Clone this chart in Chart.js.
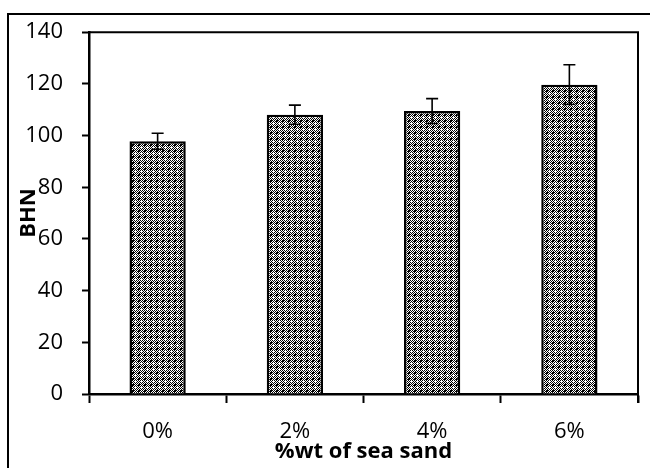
<!DOCTYPE html>
<html lang="en">
<head>
    <meta charset="UTF-8">
    <title>BHN vs %wt of sea sand</title>
    <style>
        * { margin: 0; padding: 0; box-sizing: border-box; }
        body { width: 650px; height: 468px; background: #fff; overflow: hidden; position: relative; }
        .frame {
            position: absolute;
            left: 7px; top: 13px;
            width: 700px; height: 500px;
            border: 2px solid #000;
        }
        #chart { position: absolute; left: 0; top: 0; }
    </style>
</head>
<body>
    <div class="frame"></div>
    <canvas id="chart" width="650" height="468"></canvas>

    <script src="https://cdn.jsdelivr.net/npm/chart.js"></script>
    <script>
        const categories = ['0%', '2%', '4%', '6%'];
        const bhn = [97.8, 108.1, 109.5, 119.7];
        const bhnError = [3.1, 3.7, 4.8, 7.7];
        const yTicks = [0, 20, 40, 60, 80, 100, 120, 140];

        const FONT = "'Open Sans', sans-serif";

        // dotted fill like the excel pattern
        function makePattern() {
            const c = document.createElement('canvas');
            c.width = 6; c.height = 6;
            const g = c.getContext('2d');
            g.fillStyle = '#fff';
            g.fillRect(0, 0, 6, 6);
            g.fillStyle = '#000';
            for (let y = 0; y < 6; y++) {
                for (let x = 0; x < 6; x++) {
                    if ((x + y) % 2 === 0) g.fillRect(x, y, 1, 1);
                }
            }
            g.fillRect(1, 0, 1, 1);
            g.fillRect(0, 1, 1, 1);
            g.fillStyle = '#fff';
            [[3, 2], [2, 3], [3, 3], [4, 3], [3, 4]].forEach(p => g.fillRect(p[0], p[1], 1, 1));
            return g.createPattern(c, 'repeat');
        }

        const errorBars = {
            id: 'errorBars',
            afterDatasetsDraw(chart) {
                const ctx = chart.ctx;
                const meta = chart.getDatasetMeta(0);
                const yScale = chart.scales.y;
                ctx.save();
                ctx.strokeStyle = '#000';
                ctx.lineWidth = 1.6;
                meta.data.forEach((bar, i) => {
                    const x = bar.x;
                    const hi = yScale.getPixelForValue(bhn[i] + bhnError[i]);
                    const lo = yScale.getPixelForValue(bhn[i] - bhnError[i]);
                    ctx.beginPath();
                    ctx.moveTo(x, hi); ctx.lineTo(x, lo);
                    ctx.moveTo(x - 6, hi); ctx.lineTo(x + 6, hi);
                    ctx.moveTo(x - 6, lo); ctx.lineTo(x + 6, lo);
                    ctx.stroke();
                });
                ctx.restore();
            }
        };

        const plotBox = {
            id: 'plotBox',
            afterDraw(chart) {
                const a = chart.chartArea;
                const ctx = chart.ctx;
                ctx.save();
                ctx.strokeStyle = '#000';
                ctx.lineWidth = 2;
                ctx.beginPath();
                ctx.moveTo(a.left, a.top);
                ctx.lineTo(a.right, a.top);
                ctx.lineTo(a.right, a.bottom + 9);
                ctx.stroke();
                ctx.restore();
            }
        };

        new Chart(document.getElementById('chart'), {
            type: 'bar',
            data: {
                labels: categories,
                datasets: [{
                    data: bhn,
                    backgroundColor: makePattern(),
                    borderColor: '#000',
                    borderWidth: 2.5,
                    barPercentage: 0.41,
                    categoryPercentage: 1
                }]
            },
            options: {
                responsive: false,
                animation: false,
                layout: { padding: { left: 0, top: 30, right: 12, bottom: 0 } },
                plugins: { legend: { display: false }, tooltip: { enabled: false } },
                scales: {
                    x: {
                        afterFit(s) { s.height = 74; },
                        grid: {
                            offset: true,
                            drawOnChartArea: false,
                            tickLength: 9,
                            tickWidth: 2,
                            tickColor: '#000'
                        },
                        border: { display: true, color: '#000', width: 2.5 },
                        ticks: { color: '#000', padding: 16, font: { family: FONT, size: 22 } },
                        title: {
                            display: true,
                            text: '%wt of sea sand',
                            color: '#000',
                            font: { family: FONT, size: 22, weight: 'bold' },
                            padding: { top: 0, bottom: 3 }
                        }
                    },
                    y: {
                        min: 0,
                        max: 140,
                        afterFit(s) { s.width = 89; },
                        afterBuildTicks(s) { s.ticks = yTicks.map(v => ({ value: v })); },
                        grid: {
                            drawOnChartArea: false,
                            tickLength: 7,
                            tickWidth: 2,
                            tickColor: '#000'
                        },
                        border: { display: true, color: '#000', width: 2.5 },
                        ticks: { color: '#000', padding: 19, font: { family: FONT, size: 22 } },
                        title: {
                            display: true,
                            text: 'BHN',
                            color: '#000',
                            font: { family: FONT, size: 22, weight: 'bold' },
                            padding: { top: 16, bottom: 0 }
                        }
                    }
                }
            },
            plugins: [errorBars, plotBox]
        });
    </script>
</body>
</html>
